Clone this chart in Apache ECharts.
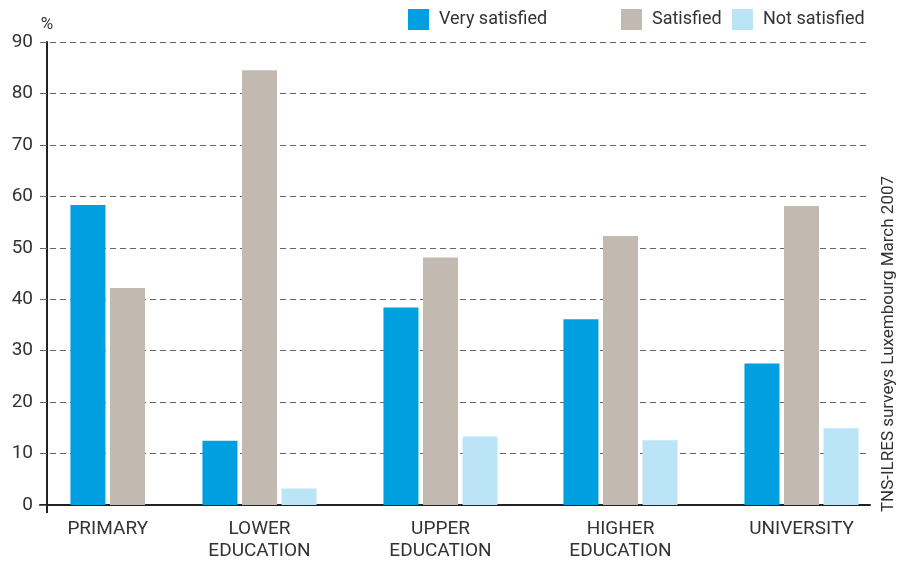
<!DOCTYPE html>
<html>
<head>
<meta charset="utf-8">
<script src="https://cdn.jsdelivr.net/npm/echarts@6/dist/echarts.min.js"></script>
<style>
  html, body { margin: 0; padding: 0; background: #fff; }
  #chart { width: 903px; height: 562px; }
</style>
</head>
<body>
<div id="chart"></div>
<script>
// Satisfaction by level of education (%)
const categories = ['PRIMARY', 'LOWER\nEDUCATION', 'UPPER\nEDUCATION', 'HIGHER\nEDUCATION', 'UNIVERSITY'];
const verySatisfied = [58.3, 12.5, 38.4, 36.1, 27.5];
const satisfied = [42.2, 84.5, 48.1, 52.3, 58.1];
const notSatisfied = [null, 3.2, 13.3, 12.6, 14.9];
const seriesNames = ['Very satisfied', 'Satisfied', 'Not satisfied'];
const yTicks = [0, 10, 20, 30, 40, 50, 60, 70, 80, 90];
const sourceNote = 'TNS-ILRES surveys Luxembourg March 2007';

// Layout: horizontal position of each group's middle bar on the x scale (1 unit = 1 px)
const groupX = [80.5, 212.5, 393.5, 573.5, 754.5];
const BAR_W = 35;
const BAR_GAP = '13%';
const BAR_STEP = BAR_W * 1.13;

const colors = ['#009FE0', '#C2BAB0', '#BBE4F6'];
const seriesValues = [verySatisfied, satisfied, notSatisfied];

// Category labels sit under the middle of the bars actually drawn in each group
const labelX = categories.map((c, i) => {
  const present = seriesValues.map((v, s) => (v[i] == null ? null : s)).filter(s => s !== null);
  const mean = present.reduce((a, b) => a + b, 0) / present.length;
  return groupX[i] + (mean - 1) * BAR_STEP;
});
const labelMap = {};
labelX.forEach((x, i) => { labelMap[String(x)] = categories[i]; });

const font = 'Roboto, "Liberation Sans", sans-serif';

const chart = echarts.init(document.getElementById('chart'), null, { renderer: 'canvas' });

const legends = seriesNames.map((name, i) => ({
  data: [name],
  left: [403, 616, 727][i],
  top: 4,
  icon: 'rect',
  itemWidth: 21,
  itemHeight: 21,
  selectedMode: false,
  textStyle: { fontFamily: font, fontSize: 18, color: '#333', padding: [0, 0, 0, 5] }
}));

chart.setOption({
  animation: false,
  backgroundColor: '#fff',
  legend: legends,
  grid: { left: 40, right: 33, top: 42, bottom: 57, containLabel: false },
  xAxis: {
    type: 'value',
    min: -7,
    max: 823,
    splitLine: { show: false },
    axisLine: { show: true, onZero: true, lineStyle: { color: '#222', width: 2 } },
    axisTick: { show: true, customValues: [0], length: 8, lineStyle: { color: '#222', width: 2 } },
    axisLabel: {
      show: true,
      customValues: labelX,
      formatter: v => labelMap[String(v)] || '',
      fontFamily: font,
      fontSize: 19,
      color: '#333',
      lineHeight: 22,
      margin: 13
    }
  },
  yAxis: {
    type: 'value',
    min: 0,
    max: 90,
    interval: 10,
    name: '%',
    nameLocation: 'end',
    nameGap: 9,
    nameTextStyle: { fontFamily: font, fontSize: 17, color: '#333' },
    axisLine: { show: true, onZero: true, lineStyle: { color: '#222', width: 2 } },
    axisTick: { show: true, length: 7, lineStyle: { color: '#666', width: 1 } },
    axisLabel: {
      fontFamily: font,
      fontSize: 19,
      color: '#333',
      margin: 7,
      formatter: v => (yTicks.indexOf(v) >= 0 ? String(v) : '')
    },
    splitLine: { show: true, lineStyle: { color: '#666', width: 1, type: [6, 4] } }
  },
  series: seriesNames.map((name, s) => ({
    name,
    type: 'bar',
    barWidth: BAR_W,
    barGap: BAR_GAP,
    itemStyle: { color: colors[s] },
    data: seriesValues[s]
      .map((v, i) => (v == null ? null : [groupX[i], v]))
      .filter(d => d !== null)
  })),
  graphic: [{
    type: 'text',
    x: 889,
    y: 344,
    rotation: Math.PI / 2,
    style: {
      text: sourceNote,
      fontFamily: font,
      fontSize: 17,
      fill: '#333',
      align: 'center',
      verticalAlign: 'middle'
    }
  }]
});
</script>
</body>
</html>
